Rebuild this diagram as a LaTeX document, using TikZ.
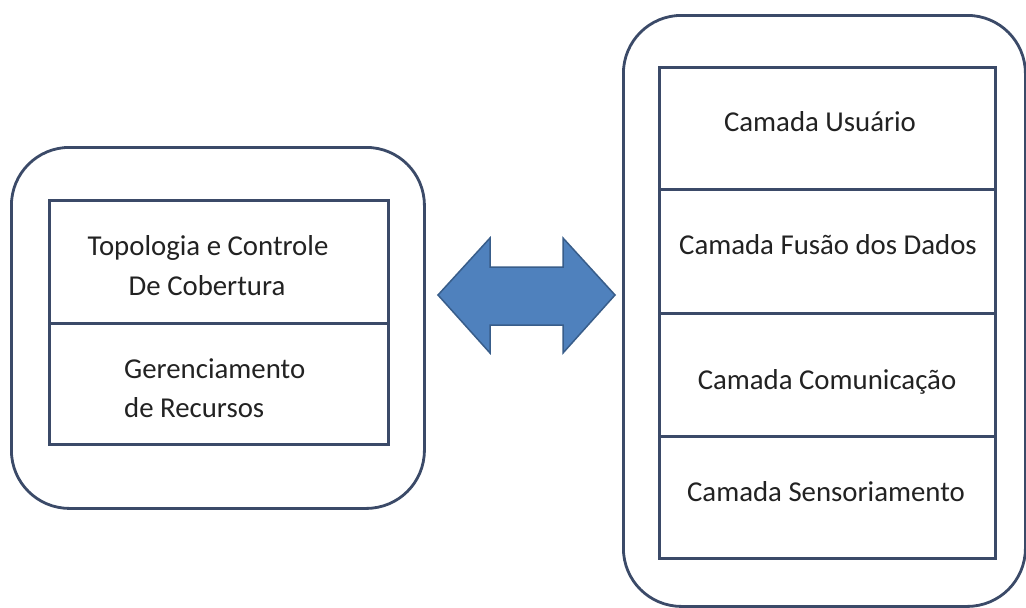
\documentclass[tikz,border=0pt]{standalone}
\usepackage{fontspec}
\setmainfont{Carlito}
\definecolor{linec}{HTML}{3B4A68}
\definecolor{textc}{HTML}{222222}
\definecolor{arrowfill}{HTML}{4F81BD}
\definecolor{arrowline}{HTML}{385D8A}
\begin{document}
\begin{tikzpicture}[x=1pt,y=-1pt,
  frame/.style={draw=linec, line width=2.8pt, rounded corners=58pt, anchor=north west, inner sep=0pt},
  cell/.style={draw=linec, line width=2.8pt, anchor=north west, inner sep=0pt},
  lbl/.style={font=\fontsize{28.8}{34}\selectfont, text=textc, anchor=base, inner sep=0pt},
]
\useasboundingbox[fill=white] (0,0) rectangle (1026,608);

% left frame: topology / resource management
\node[frame, minimum width=413pt, minimum height=361pt] (lframe) at (10,146) {};
\node[cell, minimum width=339pt, minimum height=123pt] (topo) at (48,199) {};
\node[cell, minimum width=339pt, minimum height=121pt] (recur) at (48,322) {};
\node[lbl] (topo1) at (208,255) {Topologia e Controle};
\node[lbl] (topo2) at (207,295) {De Cobertura};
\node[lbl, anchor=base west] (recur1) at (124,378) {Gerenciamento};
\node[lbl, anchor=base west] (recur2) at (124,417) {de Recursos};

% right frame: layer stack
\node[frame, minimum width=402pt, minimum height=591pt] (rframe) at (622,14) {};
\node[cell, minimum width=336pt, minimum height=122pt] (user) at (658,66) {};
\node[cell, minimum width=336pt, minimum height=124pt] (fusion) at (658,188) {};
\node[cell, minimum width=336pt, minimum height=123pt] (comm) at (658,312) {};
\node[cell, minimum width=336pt, minimum height=122pt] (sense) at (658,435) {};
\node[lbl] (userl) at (820,131) {Camada Usuário};
\node[lbl] (fusionl) at (828,254) {Camada Fusão dos Dados};
\node[lbl] (comml) at (827,389) {Camada Comunicação};
\node[lbl] (sensel) at (826,501) {Camada Sensoriamento};

% block double arrow between the frames
\draw[fill=arrowfill, draw=arrowline, line width=1.5pt, line join=miter]
  (438,295) -- (490,238) -- (490,267) -- (563,267) -- (563,238) -- (615,295)
  -- (563,353) -- (563,325) -- (490,325) -- (490,353) -- cycle;
\end{tikzpicture}
\end{document}
